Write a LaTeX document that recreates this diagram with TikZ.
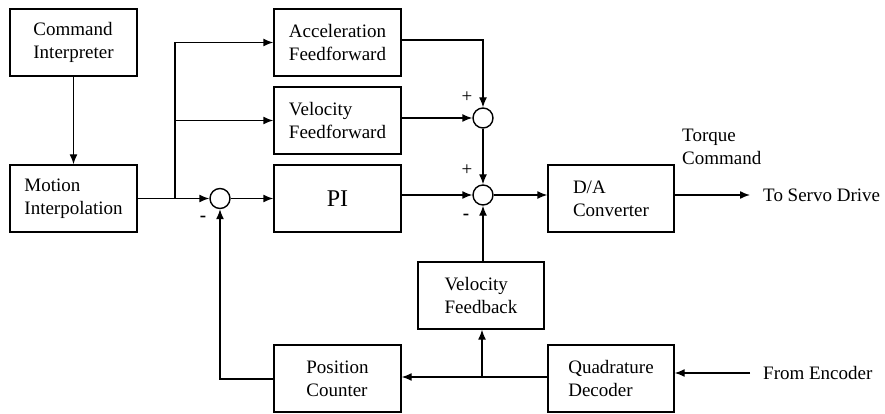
\documentclass[tikz,border=0pt]{standalone}
\usepackage{fontspec}
\setmainfont{Liberation Serif}
\usetikzlibrary{arrows.meta,calc}
\begin{document}
\begin{tikzpicture}[x=1pt,y=-1pt,
  every node/.style={font=\fontsize{19}{23}\selectfont},
  blk/.style={draw,line width=1.4pt,minimum width=127pt,minimum height=67pt,inner sep=0pt,align=left},
  sum/.style={draw,line width=1.4pt,circle,minimum size=20pt,inner sep=0pt},
  arr/.style={line width=1.4pt,-{Latex[length=10pt,width=8pt]}},
  lbl/.style={inner sep=0pt,align=left}]
\useasboundingbox (0,0) rectangle (885,414);
% blocks
\node[blk] (ci)  at (73.5,42.5)  {Command\\Interpreter};
\node[blk] (mi)  at (73.5,198.5) {Motion\\Interpolation};
\node[blk] (aff) at (337.5,42.5) {Acceleration\\Feedforward};
\node[blk] (vff) at (337.5,120.5) {Velocity\\Feedforward};
\node[blk] (pi)  at (337.5,198.5) {\fontsize{24}{28}\selectfont PI};
\node[blk,minimum width=126pt] (da)  at (611,198.5) {D/A\\Converter};
\node[blk,minimum width=126pt] (vfb) at (481,295.5) {Velocity\\Feedback};
\node[blk] (pc)  at (337.5,378.5) {Position\\Counter};
\node[blk,minimum width=126pt] (qd)  at (611,378.5) {Quadrature\\Decoder};
% summing junctions
\node[sum] (s1) at (220,198.5) {};
\node[sum] (s2) at (483,118) {};
\node[sum] (s3) at (483,195) {};
% signs
\node[lbl] (p1) at (467,97) {+};
\node[lbl] (p2) at (467,170) {+};
\node[lbl] (m1) at (203,219) {\textbf{-}};
\node[lbl] (m2) at (466,217) {\textbf{-}};
% labels
\node[lbl,anchor=west] (tq) at (682,147) {Torque\\Command};
\node[lbl,anchor=west] (tsd) at (763,195) {To Servo Drive};
\node[lbl,anchor=west] (fen) at (763,373) {From Encoder};
% coordinates
\coordinate (j1) at (175,198.5);
\coordinate (j2) at (482,377);
\coordinate (ts) at (750,195);
\coordinate (fe) at (750,373);
% connectors
\draw[arr] (ci) -- (mi);
\draw[arr] (mi.east) -- (s1.west);
\draw[arr] (j1) |- (aff.west);
\draw[arr] (j1) |- (vff.west);
\draw[arr] (s1.east) -- (pi.west);
\draw[arr] ($(aff.east)+(0,-2.5)$) -| (s2.north);
\draw[arr] (vff.east |- s2) -- (s2.west);
\draw[arr] (s2.south) -- (s3.north);
\draw[arr] (pi.east |- s3) -- (s3.west);
\draw[arr] (s3.east) -- (da.west |- s3);
\draw[arr] (da.east |- s3) -- (ts);
\draw[arr] (vfb.north -| s3) -- (s3.south);
\draw[arr] (qd.west |- j2) -- (pc.east |- j2);
\draw[arr] (j2) -- (vfb.south -| j2);
\draw[arr] ($(pc.west)+(0,0.5)$) -| (s1.south);
\draw[arr] (fe) -- (qd.east |- fe);
\end{tikzpicture}
\end{document}
